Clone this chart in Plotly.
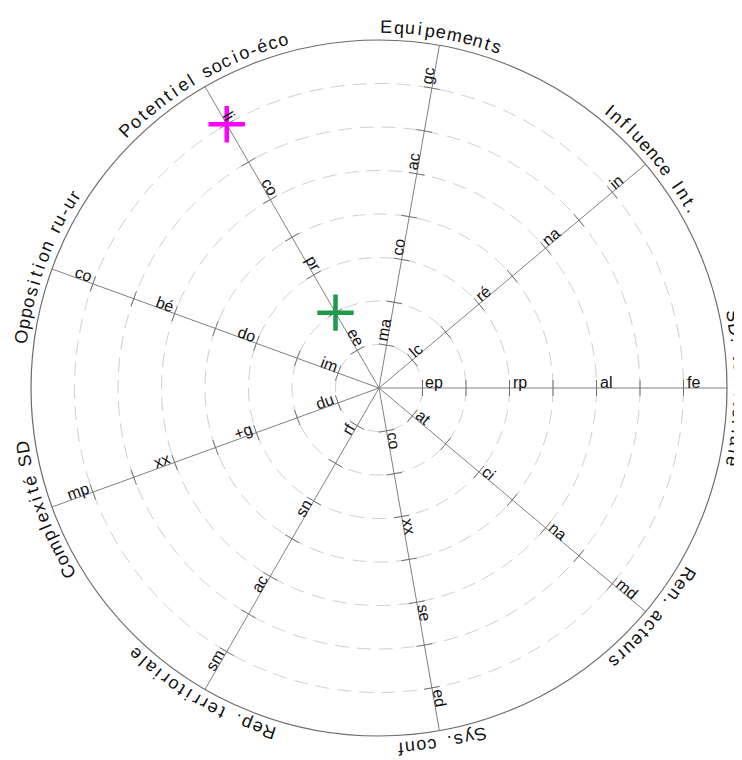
import numpy as np
import plotly.graph_objects as go

# ---------------- data ----------------
axis_names = ["SD. territoriale", "Influence Int.", "Equipements", "Potentiel socio-éco",
              "Opposition ru-ur", "Complexité SD", "Rep. territoriale", "Sys. conf",
              "Ren. acteurs"]
axis_angles = [0, 40, 80, 120, 160, 200, 240, 280, 320]
levels = [1, 2, 3, 4, 5, 6, 7]
max_level = 8
label_levels = [1, 3, 5, 7]
tick_labels = [
    ["ep", "rp", "al", "fe"],
    ["lc", "ré", "na", "in"],
    ["ma", "co", "ac", "gc"],
    ["ee", "pr", "co", "li"],
    ["im", "do", "bé", "co"],
    ["du", "+g", "xx", "mp"],
    ["rf", "sn", "ac", "sm"],
    ["co", "xx", "se", "ed"],
    ["at", "ci", "na", "md"],
]
marker_axis = ["Potentiel socio-éco", "Potentiel socio-éco"]
marker_level = [7, 2]
marker_color = ["#ff00ff", "#1f9a4a"]

# ---------------- geometry / style ----------------
PAGE_OFF = 8               # default page margin of the html body
W, H = 742 - PAGE_OFF, 760 - PAGE_OFF
CX, CY = 379 - PAGE_OFF, 388 - PAGE_OFF   # centre in figure pixels
PX = 43.5                   # pixels per level unit
FONT = "Liberation Sans, Arial, sans-serif"

CW = {'E': 667, 'q': 556, 'u': 556, 'i': 222, 'p': 556, 'e': 556, 'm': 833, 'n': 556,
      't': 278, 's': 500, ' ': 278, '.': 278, 'I': 278, 'f': 278, 'l': 222, 'c': 500,
      'S': 667, 'D': 722, 'r': 333, 'o': 556, 'a': 556, 'R': 722, 'P': 667, 'y': 500,
      'O': 778, '-': 333, 'C': 722, 'x': 500, 'é': 556, 'd': 556, 'g': 556, 'b': 556,
      '+': 584}


def text_w(s, fs):
    return sum(CW.get(ch, 556) for ch in s) * fs / 1000.0


def pol(r, deg):
    a = np.deg2rad(deg)
    return r * np.cos(a), r * np.sin(a)


def norm_angle(a):
    return (a + 180) % 360 - 180


fig = go.Figure()

# dashed rings + outer circle
shapes = []
for lv in levels:
    shapes.append(dict(type="circle", xref="x", yref="y", x0=-lv, y0=-lv, x1=lv, y1=lv,
                       line=dict(color="#cfcfcf", width=1, dash="14px,8px"), layer="below"))
shapes.append(dict(type="circle", xref="x", yref="y", x0=-max_level, y0=-max_level,
                   x1=max_level, y1=max_level, line=dict(color="#6a6a6a", width=1.2),
                   layer="below"))

# spokes
sx, sy = [], []
for ang in axis_angles:
    x1, y1 = pol(max_level, ang)
    sx += [0, x1, None]
    sy += [0, y1, None]
fig.add_trace(go.Scatter(x=sx, y=sy, mode="lines", line=dict(color="#808080", width=1),
                         hoverinfo="skip", showlegend=False))

# ticks
half = 8.0 / PX
tx, ty = [], []
for ang in axis_angles:
    px_, py_ = pol(1, ang + 90)
    for lv in levels:
        cx, cy = pol(lv, ang)
        tx += [cx - px_ * half, cx + px_ * half, None]
        ty += [cy - py_ * half, cy + py_ * half, None]
fig.add_trace(go.Scatter(x=tx, y=ty, mode="lines", line=dict(color="#707070", width=1),
                         hoverinfo="skip", showlegend=False))

# markers
mx, my = [], []
for name, lv in zip(marker_axis, marker_level):
    ang = axis_angles[axis_names.index(name)]
    x, y = pol(lv, ang)
    mx.append(x)
    my.append(y)
fig.add_trace(go.Scatter(x=mx, y=my, mode="markers",
                         marker=dict(symbol="cross-thin", size=26, color=marker_color,
                                     line=dict(color=marker_color, width=4.5)),
                         hoverinfo="skip", showlegend=False))

annotations = []

# tick labels along spokes
TFS = 16
for ang, labs in zip(axis_angles, tick_labels):
    outward = (ang <= 90) or (ang >= 270)
    if outward:
        reading = ang
        up = ang + 90
    else:
        reading = ang + 180
        up = ang - 90
    for lv, lab in zip(label_levels, labs):
        w = text_w(lab, TFS)
        along = (lv * PX + 3 + w / 2) / PX
        perp = 5.5 / PX
        x0, y0 = pol(along, ang)
        dx, dy = pol(perp, up)
        annotations.append(dict(x=x0 + dx, y=y0 + dy, xref="x", yref="y", text=lab,
                                showarrow=False, xanchor="center", yanchor="middle",
                                textangle=norm_angle(-reading),
                                font=dict(family=FONT, size=TFS, color="#111111")))

# rim labels, character by character along the circle
RFS = 18
RR = 361.0
for ang, name in zip(axis_angles, axis_names):
    adv = [max(CW.get(ch, 556) * RFS / 1000.0, 0.42 * RFS) + 1.2 for ch in name]
    total = sum(adv)
    start = ang + np.rad2deg((total / 2) / RR)
    cum = 0.0
    for ch, a in zip(name, adv):
        phi = start - np.rad2deg((cum + a / 2) / RR)
        cum += a
        if ch == " ":
            continue
        x, y = pol(RR / PX, phi)
        annotations.append(dict(x=x, y=y, xref="x", yref="y", text=ch, showarrow=False,
                                xanchor="center", yanchor="middle",
                                textangle=norm_angle(90 - phi),
                                font=dict(family=FONT, size=RFS, color="#111111")))

fig.update_layout(
    width=W, height=H, margin=dict(l=0, r=0, t=0, b=0),
    paper_bgcolor="white", plot_bgcolor="white",
    xaxis=dict(range=[-CX / PX, (W - CX) / PX], visible=False, fixedrange=True),
    yaxis=dict(range=[-(H - CY) / PX, CY / PX], visible=False, fixedrange=True),
    shapes=shapes, annotations=annotations, showlegend=False,
)

fig.write_html("out.html")
